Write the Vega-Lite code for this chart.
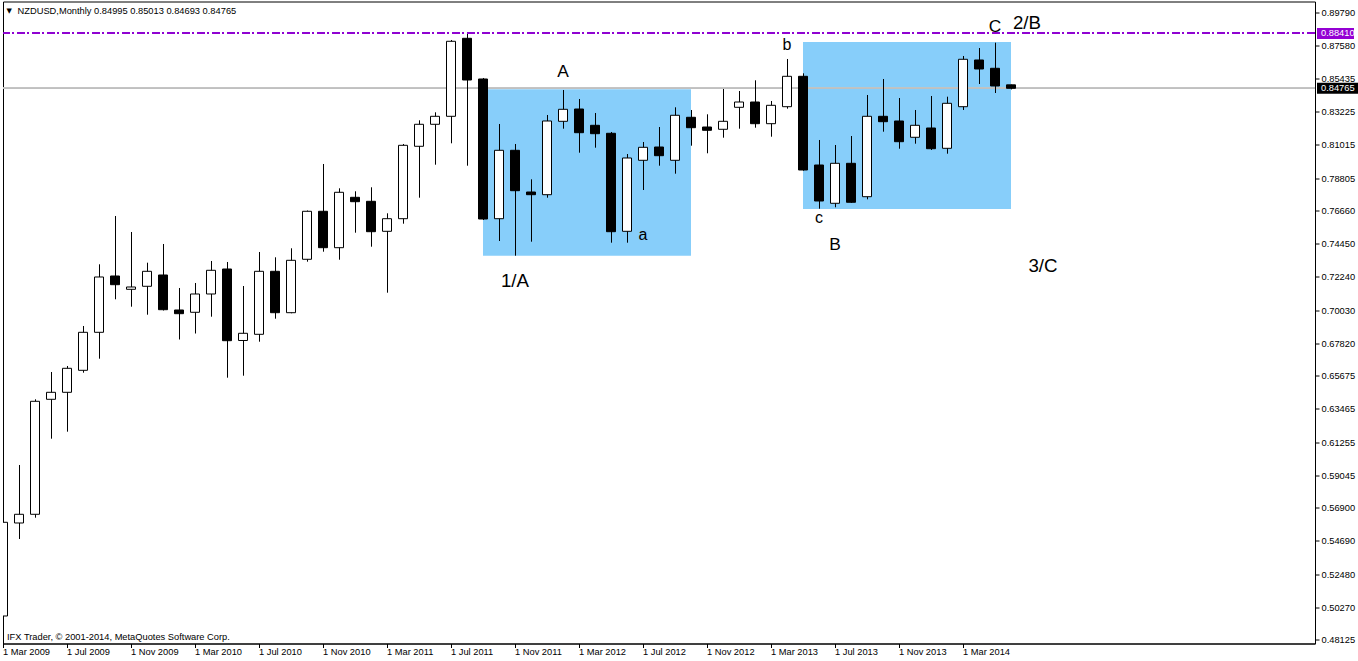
{
  "$schema": "https://vega.github.io/schema/vega-lite/v6.json",
  "width": 1312,
  "height": 642,
  "autosize": {"type": "none"},
  "padding": {"left": 3, "top": 1.5, "right": 43, "bottom": 17.5},
  "background": "white",
  "config": {
    "view": {"stroke": "black", "strokeWidth": 1, "fill": "white"},
    "axis": {
      "labelFont": "Liberation Sans", "labelFontSize": 9.3, "labelColor": "black",
      "domainColor": "black", "tickColor": "black", "tickSize": 4, "grid": false, "title": null,
      "labelOverlap": false, "labelFlush": false, "labelBound": false
    },
    "text": {"font": "Liberation Sans"}
  },
  "datasets": {
    "candles": [
      {"date":"1 Mar 2009","open":0.49704,"high":0.58009,"low":0.48906,"close":0.55930},
      {"date":"1 Apr 2009","open":0.55883,"high":0.59737,"low":0.54820,"close":0.56461},
      {"date":"1 May 2009","open":0.56461,"high":0.64102,"low":0.56235,"close":0.63969},
      {"date":"1 Jun 2009","open":0.64102,"high":0.65916,"low":0.61484,"close":0.64567},
      {"date":"1 Jul 2009","open":0.64567,"high":0.66315,"low":0.61950,"close":0.66162},
      {"date":"1 Aug 2009","open":0.66029,"high":0.68973,"low":0.65870,"close":0.68554},
      {"date":"1 Sep 2009","open":0.68554,"high":0.73072,"low":0.66800,"close":0.72229},
      {"date":"1 Oct 2009","open":0.72295,"high":0.76282,"low":0.70747,"close":0.71717},
      {"date":"1 Nov 2009","open":0.71411,"high":0.75219,"low":0.70255,"close":0.71564},
      {"date":"1 Dec 2009","open":0.71611,"high":0.73179,"low":0.69724,"close":0.72607},
      {"date":"1 Jan 2010","open":0.72362,"high":0.74421,"low":0.70003,"close":0.70056},
      {"date":"1 Feb 2010","open":0.70036,"high":0.71498,"low":0.68076,"close":0.69790},
      {"date":"1 Mar 2010","open":0.69883,"high":0.71830,"low":0.68474,"close":0.71099},
      {"date":"1 Apr 2010","open":0.71099,"high":0.73292,"low":0.69591,"close":0.72674},
      {"date":"1 May 2010","open":0.72760,"high":0.73225,"low":0.65538,"close":0.67996},
      {"date":"1 Jun 2010","open":0.68009,"high":0.71630,"low":0.65670,"close":0.68488},
      {"date":"1 Jul 2010","open":0.68421,"high":0.73890,"low":0.67930,"close":0.72607},
      {"date":"1 Aug 2010","open":0.72607,"high":0.73537,"low":0.69458,"close":0.69856},
      {"date":"1 Sep 2010","open":0.69856,"high":0.74136,"low":0.69817,"close":0.73338},
      {"date":"1 Oct 2010","open":0.73405,"high":0.76647,"low":0.73245,"close":0.76594},
      {"date":"1 Nov 2010","open":0.76594,"high":0.79737,"low":0.73910,"close":0.74175},
      {"date":"1 Dec 2010","open":0.74175,"high":0.78122,"low":0.73378,"close":0.77857},
      {"date":"1 Jan 2011","open":0.77524,"high":0.77923,"low":0.75172,"close":0.77232},
      {"date":"1 Feb 2011","open":0.77258,"high":0.78189,"low":0.74242,"close":0.75239},
      {"date":"1 Mar 2011","open":0.75265,"high":0.76461,"low":0.71185,"close":0.76102},
      {"date":"1 Apr 2011","open":0.76102,"high":0.81066,"low":0.75770,"close":0.80979},
      {"date":"1 May 2011","open":0.80913,"high":0.82640,"low":0.77498,"close":0.82375},
      {"date":"1 Jun 2011","open":0.82375,"high":0.83172,"low":0.79690,"close":0.82906},
      {"date":"1 Jul 2011","open":0.82906,"high":0.87976,"low":0.81112,"close":0.87890},
      {"date":"1 Aug 2011","open":0.88089,"high":0.88410,"low":0.79624,"close":0.85318},
      {"date":"1 Sep 2011","open":0.85385,"high":0.85451,"low":0.76016,"close":0.76082},
      {"date":"1 Oct 2011","open":0.76102,"high":0.82395,"low":0.74620,"close":0.80647},
      {"date":"1 Nov 2011","open":0.80647,"high":0.81066,"low":0.73644,"close":0.77963},
      {"date":"1 Dec 2011","open":0.77876,"high":0.78720,"low":0.74574,"close":0.77697},
      {"date":"1 Jan 2012","open":0.77697,"high":0.82993,"low":0.77498,"close":0.82594},
      {"date":"1 Feb 2012","open":0.82574,"high":0.84654,"low":0.82082,"close":0.83371},
      {"date":"1 Mar 2012","open":0.83391,"high":0.84056,"low":0.80488,"close":0.81817},
      {"date":"1 Apr 2012","open":0.82308,"high":0.83126,"low":0.80820,"close":0.81750},
      {"date":"1 May 2012","open":0.81777,"high":0.81863,"low":0.74508,"close":0.75239},
      {"date":"1 Jun 2012","open":0.75265,"high":0.80401,"low":0.74508,"close":0.80136},
      {"date":"1 Jul 2012","open":0.79983,"high":0.81199,"low":0.78009,"close":0.80846},
      {"date":"1 Aug 2012","open":0.80866,"high":0.82195,"low":0.79624,"close":0.80288},
      {"date":"1 Sep 2012","open":0.79983,"high":0.83504,"low":0.79092,"close":0.82973},
      {"date":"1 Oct 2012","open":0.82840,"high":0.83325,"low":0.80953,"close":0.82149},
      {"date":"1 Nov 2012","open":0.82195,"high":0.83039,"low":0.80448,"close":0.81976},
      {"date":"1 Dec 2012","open":0.82043,"high":0.84720,"low":0.81484,"close":0.82574},
      {"date":"1 Jan 2013","open":0.83504,"high":0.84587,"low":0.82082,"close":0.83856},
      {"date":"1 Feb 2013","open":0.83856,"high":0.85298,"low":0.82149,"close":0.82415},
      {"date":"1 Mar 2013","open":0.82415,"high":0.83923,"low":0.81551,"close":0.83637},
      {"date":"1 Apr 2013","open":0.83544,"high":0.86714,"low":0.83411,"close":0.85564},
      {"date":"1 May 2013","open":0.85564,"high":0.85763,"low":0.79292,"close":0.79338},
      {"date":"1 Jun 2013","open":0.79670,"high":0.81332,"low":0.76767,"close":0.77278},
      {"date":"1 Jul 2013","open":0.77126,"high":0.80999,"low":0.76860,"close":0.79783},
      {"date":"1 Aug 2013","open":0.79783,"high":0.81597,"low":0.77159,"close":0.77192},
      {"date":"1 Sep 2013","open":0.77564,"high":0.84322,"low":0.77391,"close":0.82906},
      {"date":"1 Oct 2013","open":0.82906,"high":0.85385,"low":0.81883,"close":0.82548},
      {"date":"1 Nov 2013","open":0.82594,"high":0.84122,"low":0.80753,"close":0.81219},
      {"date":"1 Dec 2013","open":0.81511,"high":0.83325,"low":0.81086,"close":0.82308},
      {"date":"1 Jan 2014","open":0.82129,"high":0.84255,"low":0.80667,"close":0.80753},
      {"date":"1 Feb 2014","open":0.80780,"high":0.84209,"low":0.80421,"close":0.83770},
      {"date":"1 Mar 2014","open":0.83544,"high":0.86913,"low":0.83325,"close":0.86694},
      {"date":"1 Apr 2014","open":0.86647,"high":0.87444,"low":0.85052,"close":0.86049},
      {"date":"1 May 2014","open":0.86096,"high":0.87797,"low":0.84454,"close":0.84920},
      {"date":"1 Jun 2014","open":0.84995,"high":0.85013,"low":0.84693,"close":0.84765}
    ],
    "zones": [
      {"from":"1 Sep 2011","to":"1 Oct 2012","top":0.84700,"bottom":0.73644},
      {"from":"1 May 2013","to":"1 Jun 2014","top":0.87843,"bottom":0.76747}
    ],
    "waves": [
      {"text":"A","date":"1 Feb 2012","price":0.85538,"degree":"intermediate"},
      {"text":"1/A","date":"1 Nov 2011","price":0.71584,"degree":"primary"},
      {"text":"a","date":"1 Jul 2012","price":0.74687,"degree":"minor"},
      {"text":"b","date":"1 Apr 2013","price":0.87312,"degree":"minor"},
      {"text":"c","date":"1 Jun 2013","price":0.75837,"degree":"minor"},
      {"text":"B","date":"1 Jul 2013","price":0.74023,"degree":"intermediate"},
      {"text":"C","date":"1 May 2014","price":0.88528,"degree":"intermediate"},
      {"text":"2/B","date":"1 Jul 2014","price":0.88687,"degree":"primary"},
      {"text":"3/C","date":"1 Aug 2014","price":0.72581,"degree":"primary"}
    ]
  },
  "layer": [
    {
      "data": {"name": "zones"},
      "mark": {"type": "rect", "color": "#87CEFA", "opacity": 1},
      "encoding": {
        "x": {"field": "from", "type": "ordinal"},
        "x2": {"field": "to"},
        "y": {"field": "top", "type": "quantitative"},
        "y2": {"field": "bottom"}
      }
    },
    {
      "data": {"name": "candles"},
      "mark": {"type": "rule", "color": "#C0C0C0", "strokeWidth": 1},
      "encoding": {"y": {"datum": 0.84765, "type": "quantitative"}}
    },
    {
      "data": {"name": "candles"},
      "mark": {"type": "rule", "color": "black", "strokeWidth": 1, "xOffset": 0.5, "clip": true},
      "encoding": {
        "x": {
          "field": "date", "type": "ordinal",
          "scale": {
            "type": "point", "padding": 0,
            "domain": ["1 Mar 2009","1 Apr 2009","1 May 2009","1 Jun 2009","1 Jul 2009","1 Aug 2009","1 Sep 2009","1 Oct 2009","1 Nov 2009","1 Dec 2009",
              "1 Jan 2010","1 Feb 2010","1 Mar 2010","1 Apr 2010","1 May 2010","1 Jun 2010","1 Jul 2010","1 Aug 2010","1 Sep 2010","1 Oct 2010","1 Nov 2010","1 Dec 2010",
              "1 Jan 2011","1 Feb 2011","1 Mar 2011","1 Apr 2011","1 May 2011","1 Jun 2011","1 Jul 2011","1 Aug 2011","1 Sep 2011","1 Oct 2011","1 Nov 2011","1 Dec 2011",
              "1 Jan 2012","1 Feb 2012","1 Mar 2012","1 Apr 2012","1 May 2012","1 Jun 2012","1 Jul 2012","1 Aug 2012","1 Sep 2012","1 Oct 2012","1 Nov 2012","1 Dec 2012",
              "1 Jan 2013","1 Feb 2013","1 Mar 2013","1 Apr 2013","1 May 2013","1 Jun 2013","1 Jul 2013","1 Aug 2013","1 Sep 2013","1 Oct 2013","1 Nov 2013","1 Dec 2013",
              "1 Jan 2014","1 Feb 2014","1 Mar 2014","1 Apr 2014","1 May 2014","1 Jun 2014","1 Jul 2014","1 Aug 2014","1 Sep 2014","1 Oct 2014","1 Nov 2014","1 Dec 2014",
              "1 Jan 2015","1 Feb 2015","1 Mar 2015","1 Apr 2015","1 May 2015","1 Jun 2015","1 Jul 2015","1 Aug 2015","1 Sep 2015","1 Oct 2015","1 Nov 2015","1 Dec 2015",
              "1 Jan 2016"]
          },
          "axis": {
            "orient": "bottom",
            "values": ["1 Mar 2009","1 Jul 2009","1 Nov 2009","1 Mar 2010","1 Jul 2010","1 Nov 2010","1 Mar 2011","1 Jul 2011","1 Nov 2011","1 Mar 2012","1 Jul 2012","1 Nov 2012","1 Mar 2013","1 Jul 2013","1 Nov 2013","1 Mar 2014"],
            "labelAlign": "left", "labelOffset": -0.5, "labelPadding": 0, "labelBaseline": "top",
            "labelOverlap": false, "labelFlush": false, "labelBound": false, "labelAngle": 0
          }
        },
        "y": {
          "field": "high", "type": "quantitative",
          "scale": {"domain": [0.47876, 0.90534], "nice": false, "zero": false},
          "axis": {
            "orient": "right",
            "values": [0.89790,0.87580,0.85435,0.83225,0.81015,0.78805,0.76660,0.74450,0.72240,0.70030,0.67820,0.65675,0.63465,0.61255,0.59045,0.56900,0.54690,0.52480,0.50270,0.48125],
            "tickCount": 40,
            "format": ".5f", "labelPadding": 2, "labelBaseline": "middle", "labelOverlap": false, "labelFlush": false, "labelBound": false
          }
        },
        "y2": {"field": "low"}
      }
    },
    {
      "data": {"name": "candles"},
      "mark": {"type": "bar", "width": 9, "stroke": "black", "strokeWidth": 1, "clip": true},
      "encoding": {
        "x": {"field": "date", "type": "ordinal"},
        "y": {"field": "open", "type": "quantitative"},
        "y2": {"field": "close"},
        "fill": {"condition": {"test": "datum.close < datum.open", "value": "black"}, "value": "white"}
      }
    },
    {
      "data": {"name": "candles"},
      "mark": {"type": "rule", "color": "#9400D3", "strokeWidth": 1, "strokeDash": [8, 3, 2, 2]},
      "encoding": {"y": {"datum": 0.88410, "type": "quantitative"}}
    },
    {
      "data": {"name": "waves"},
      "mark": {"type": "text", "align": "center", "baseline": "alphabetic", "color": "black", "font": "Liberation Sans"},
      "encoding": {
        "x": {"field": "date", "type": "ordinal"},
        "y": {"field": "price", "type": "quantitative"},
        "text": {"field": "text"},
        "size": {"field": "degree", "type": "nominal", "scale": {"domain": ["primary", "intermediate", "minor"], "range": [18.7, 16, 13]}, "legend": null}
      }
    },
    {
      "data": {"values": [{"label": "NZDUSD,Monthly  0.84995 0.85013 0.84693 0.84765"}]},
      "mark": {"type": "text", "align": "left", "baseline": "middle", "dx": 14.6, "fontSize": 9.3, "color": "black"},
      "encoding": {
        "x": {"datum": "1 Mar 2009", "type": "ordinal"},
        "y": {"datum": 0.89923, "type": "quantitative"},
        "text": {"field": "label"}
      }
    },
    {
      "data": {"values": [{"label": "▼"}]},
      "mark": {"type": "text", "align": "center", "baseline": "middle", "dx": 6.3, "fontSize": 7, "font": "DejaVu Sans", "color": "black"},
      "encoding": {
        "x": {"datum": "1 Mar 2009", "type": "ordinal"},
        "y": {"datum": 0.89923, "type": "quantitative"},
        "text": {"field": "label"}
      }
    },
    {
      "data": {"values": [{"label": "IFX Trader, © 2001-2014, MetaQuotes Software Corp."}]},
      "mark": {"type": "text", "align": "left", "baseline": "middle", "dx": 4, "fontSize": 9.3, "color": "black"},
      "encoding": {
        "x": {"datum": "1 Mar 2009", "type": "ordinal"},
        "y": {"datum": 0.48341, "type": "quantitative"},
        "text": {"field": "label"}
      }
    },
    {
      "data": {"values": [{"p": 0.88410}]},
      "mark": {"type": "rule", "x": {"expr": "width + 2"}, "x2": {"expr": "width + 39"}, "strokeWidth": 11, "strokeCap": "butt", "color": "#9400D3", "clip": false},
      "encoding": {"y": {"field": "p", "type": "quantitative"}}
    },
    {
      "data": {"values": [{"p": 0.84765}]},
      "mark": {"type": "rule", "x": {"expr": "width + 2"}, "x2": {"expr": "width + 43"}, "strokeWidth": 11, "strokeCap": "butt", "color": "black", "clip": false},
      "encoding": {"y": {"field": "p", "type": "quantitative"}}
    },
    {
      "data": {"values": [{"p": 0.88410, "label": "0.88410"}, {"p": 0.84765, "label": "0.84765"}]},
      "mark": {"type": "text", "x": {"expr": "width + 6"}, "align": "left", "baseline": "middle", "fontSize": 9.3, "color": "white", "clip": false},
      "encoding": {"y": {"field": "p", "type": "quantitative"}, "text": {"field": "label"}}
    }
  ]
}
